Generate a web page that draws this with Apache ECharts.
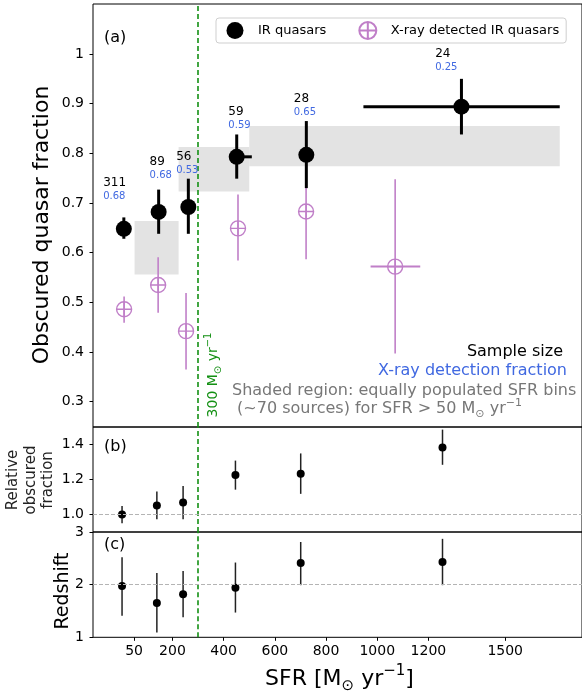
<!DOCTYPE html>
<html><head><meta charset="utf-8">
<script src="https://cdn.jsdelivr.net/npm/echarts@6/dist/echarts.min.js"></script>
<style>html,body{margin:0;padding:0;background:#fff}#c{width:582px;height:695px}</style>
</head><body><div id="c"></div>
<script>
// ---------------- data ----------------
const irSFR    = [10, 146, 262, 451, 723, 1329];
const irSFRLo  = [10, 146, 262, 425, 723, 946];
const irSFRHi  = [10, 146, 262, 510, 723, 1713];
const irFrac   = [0.648, 0.682, 0.692, 0.793, 0.797, 0.894];
const irFracLo = [0.628, 0.638, 0.638, 0.749, 0.730, 0.838];
const irFracHi = [0.671, 0.727, 0.749, 0.838, 0.865, 0.950];

const xrSFR    = [11, 144, 253, 456, 722, 1070];
const xrSFRLo  = [11, 144, 253, 456, 722, 974];
const xrSFRHi  = [11, 144, 253, 456, 722, 1168];
const xrFrac   = [0.486, 0.535, 0.442, 0.649, 0.683, 0.572];
const xrFracLo = [0.459, 0.479, 0.365, 0.584, 0.587, 0.397];
const xrFracHi = [0.512, 0.591, 0.519, 0.717, 0.745, 0.748];

const binSFRLo  = [52, 224, 500];
const binSFRHi  = [224, 500, 1713];
const binFracLo = [0.556, 0.723, 0.774];
const binFracHi = [0.664, 0.813, 0.855];

const sampleSize  = [311, 89, 56, 59, 28, 24];
const xrayDetFrac = [0.68, 0.68, 0.53, 0.59, 0.65, 0.25];
const labelSFR    = [-70.7, 110.7, 214.4, 418.3, 673.8, 1226.4];
const labelFrac   = [0.7397, 0.782, 0.7926, 0.8826, 0.9088, 1.0];

const medSFR     = [3, 139, 241.5, 446, 701, 1255];
const relFrac    = [1.0, 1.051, 1.068, 1.226, 1.233, 1.383];
const relFracLo  = [0.95, 0.973, 0.973, 1.142, 1.118, 1.284];
const relFracHi  = [1.049, 1.132, 1.163, 1.308, 1.349, 1.485];

const redshift   = [1.974, 1.65, 1.82, 1.94, 2.41, 2.43];
const redshiftLo = [1.41, 1.09, 1.38, 1.47, 1.99, 1.99];
const redshiftHi = [2.52, 2.22, 2.26, 2.42, 2.81, 2.87];

const sfrTicks  = [50, 200, 400, 600, 800, 1000, 1200, 1500];
const fracTicks = [0.3, 0.4, 0.5, 0.6, 0.7, 0.8, 0.9, 1.0];
const relTicks  = [1.0, 1.2, 1.4];
const zTicks    = [1, 2, 3];
const sfrCut = 300;
const relRef = 1.0;
const zRef = 2;

// ---------------- styles ----------------
const FF = '"DejaVu Sans", sans-serif';
const purple = '#c07fc8';
const green = '#139013';
const blue = '#4169e1';
const grey = '#777777';

const chart = echarts.init(document.getElementById('c'), null, {renderer: 'canvas'});

function xAxisCfg(gi, show) {
  return {
    type: 'value', gridIndex: gi, min: -110.5, max: 1800,
    axisLine: {show: false, onZero: false}, splitLine: {show: false},
    axisTick: {show: show, customValues: sfrTicks, length: 3.5, lineStyle: {color: '#000', width: 1}},
    axisLabel: {show: show, customValues: sfrTicks, fontSize: 14, color: '#000', margin: 7, fontFamily: FF,
      formatter: v => String(Math.round(v))}
  };
}
function yAxisCfg(gi, min, max, ticks, fmt) {
  return {
    type: 'value', gridIndex: gi, min: min, max: max,
    axisLine: {show: false, onZero: false}, splitLine: {show: false},
    axisTick: {show: true, customValues: ticks, length: 3.5, lineStyle: {color: '#000', width: 1}},
    axisLabel: {show: true, customValues: ticks, fontSize: 14, color: '#000', margin: 9, fontFamily: FF, formatter: fmt}
  };
}

function vErr(color, width) {
  return function (params, api) {
    const x = api.value(0), lo = api.value(1), hi = api.value(2);
    const p1 = api.coord([x, lo]), p2 = api.coord([x, hi]);
    return {type: 'line', shape: {x1: p1[0], y1: p1[1], x2: p2[0], y2: p2[1]},
      style: {stroke: color, lineWidth: width}};
  };
}
function hErr(color, width) {
  return function (params, api) {
    const lo = api.value(0), hi = api.value(1), y = api.value(2);
    if (hi - lo <= 0) return {type: 'group', children: []};
    const p1 = api.coord([lo, y]), p2 = api.coord([hi, y]);
    return {type: 'line', shape: {x1: p1[0], y1: p1[1], x2: p2[0], y2: p2[1]},
      style: {stroke: color, lineWidth: width}};
  };
}

const vLine = {
  silent: true, symbol: 'none', label: {show: false},
  lineStyle: {color: green, type: [5, 3], width: 1.6},
  emphasis: {disabled: true},
  data: [{xAxis: sfrCut}]
};
function hLine(v) {
  return {
    silent: true, symbol: 'none', label: {show: false},
    lineStyle: {color: '#b4b4b4', type: [4, 2], width: 1},
    emphasis: {disabled: true},
    data: [{yAxis: v}]
  };
}

const oplusPath = 'path://M0,-10A10,10 0 1,1 0,10A10,10 0 1,1 0,-10ZM0,-10L0,10M-10,0L10,0';

const series = [
  // shaded bins
  {
    type: 'custom', xAxisIndex: 0, yAxisIndex: 0, z: 1, silent: true,
    data: binSFRLo.map((x, i) => [x, binSFRHi[i], binFracLo[i], binFracHi[i]]),
    renderItem: function (params, api) {
      const p0 = api.coord([api.value(0), api.value(3)]);
      const p1 = api.coord([api.value(1), api.value(2)]);
      return {type: 'rect', shape: {x: p0[0], y: p0[1], width: p1[0] - p0[0], height: p1[1] - p0[1]},
        style: {fill: '#e3e3e3'}};
    },
    markLine: vLine
  },
  // x-ray error bars
  {type: 'custom', xAxisIndex: 0, yAxisIndex: 0, z: 3, silent: true,
    data: xrSFR.map((x, i) => [x, xrFracLo[i], xrFracHi[i]]), renderItem: vErr(purple, 1.6)},
  {type: 'custom', xAxisIndex: 0, yAxisIndex: 0, z: 3, silent: true,
    data: xrSFR.map((x, i) => [xrSFRLo[i], xrSFRHi[i], xrFrac[i]]), renderItem: hErr(purple, 2)},
  {
    name: 'X-ray detected IR quasars', type: 'scatter', xAxisIndex: 0, yAxisIndex: 0, z: 4,
    symbol: oplusPath, symbolSize: 15,
    itemStyle: {color: 'rgba(255,255,255,0)', borderColor: purple, borderWidth: 1.4, opacity: 1},
    data: xrSFR.map((x, i) => [x, xrFrac[i]])
  },
  // IR error bars
  {type: 'custom', xAxisIndex: 0, yAxisIndex: 0, z: 5, silent: true,
    data: irSFR.map((x, i) => [x, irFracLo[i], irFracHi[i]]), renderItem: vErr('#000', 3)},
  {type: 'custom', xAxisIndex: 0, yAxisIndex: 0, z: 5, silent: true,
    data: irSFR.map((x, i) => [irSFRLo[i], irSFRHi[i], irFrac[i]]), renderItem: hErr('#000', 3)},
  {
    name: 'IR quasars', type: 'scatter', xAxisIndex: 0, yAxisIndex: 0, z: 6,
    symbol: 'circle', symbolSize: 16, itemStyle: {color: '#000', opacity: 1},
    data: irSFR.map((x, i) => [x, irFrac[i]])
  },
  // sample size labels
  {
    type: 'custom', xAxisIndex: 0, yAxisIndex: 0, z: 7, silent: true,
    data: labelSFR.map((x, i) => [x, labelFrac[i]]),
    renderItem: function (params, api) {
      const i = params.dataIndex;
      const p = api.coord([api.value(0), api.value(1)]);
      return {type: 'group', children: [
        {type: 'text', x: p[0], y: p[1], style: {text: String(sampleSize[i]), font: '12px ' + FF,
          fill: '#000', align: 'left', verticalAlign: 'middle'}},
        {type: 'text', x: p[0], y: p[1] + 13.4, style: {text: xrayDetFrac[i].toFixed(2), font: '10px ' + FF,
          fill: blue, align: 'left', verticalAlign: 'middle'}}
      ]};
    }
  },
  // panel b
  {type: 'custom', xAxisIndex: 1, yAxisIndex: 1, z: 3, silent: true,
    data: medSFR.map((x, i) => [x, relFracLo[i], relFracHi[i]]), renderItem: vErr('#222', 1.5),
    markLine: vLine},
  {type: 'scatter', xAxisIndex: 1, yAxisIndex: 1, z: 4, symbol: 'circle', symbolSize: 8,
    itemStyle: {color: '#000', opacity: 1}, data: medSFR.map((x, i) => [x, relFrac[i]]),
    markLine: hLine(relRef)},
  // panel c
  {type: 'custom', xAxisIndex: 2, yAxisIndex: 2, z: 3, silent: true,
    data: medSFR.map((x, i) => [x, redshiftLo[i], redshiftHi[i]]), renderItem: vErr('#222', 1.5),
    markLine: vLine},
  {type: 'scatter', xAxisIndex: 2, yAxisIndex: 2, z: 4, symbol: 'circle', symbolSize: 8,
    itemStyle: {color: '#000', opacity: 1}, data: medSFR.map((x, i) => [x, redshift[i]]),
    markLine: hLine(zRef)}
];

function T(x, y, text, font, fill, align, extra) {
  return Object.assign({type: 'text', x: x, y: y, silent: true,
    style: {text: text, font: font, fill: fill, align: align || 'center', verticalAlign: 'middle'}}, extra || {});
}

const option = {
  animation: false,
  backgroundColor: '#fff',
  textStyle: {fontFamily: FF},
  grid: [
    {left: 93, top: 4, width: 492, height: 423, show: true, borderColor: '#000', borderWidth: 1, backgroundColor: 'transparent'},
    {left: 93, top: 427, width: 492, height: 105, show: true, borderColor: '#000', borderWidth: 1, backgroundColor: 'transparent'},
    {left: 93, top: 532, width: 492, height: 105.3, show: true, borderColor: '#000', borderWidth: 1, backgroundColor: 'transparent'}
  ],
  xAxis: [xAxisCfg(0, false), xAxisCfg(1, false), xAxisCfg(2, true)],
  yAxis: [
    yAxisCfg(0, 0.249, 1.1007, fracTicks, v => (Math.abs(v - 1) < 1e-9 ? '1' : v.toFixed(1))),
    yAxisCfg(1, 0.9, 1.5, relTicks, v => v.toFixed(1)),
    yAxisCfg(2, 1, 3, zTicks, v => String(Math.round(v)))
  ],
  legend: {
    left: 216, top: 18, orient: 'horizontal',
    data: ['IR quasars', 'X-ray detected IR quasars'],
    itemWidth: 17, itemHeight: 17, itemGap: 32,
    padding: [3, 7, 3, 10.5],
    borderColor: '#cfcfcf', borderWidth: 1, borderRadius: 3,
    backgroundColor: 'rgba(255,255,255,0.85)',
    formatter: name => '{t|' + name + '}',
    textStyle: {fontSize: 13, color: '#000', fontFamily: FF,
      rich: {t: {fontSize: 13, fontFamily: FF, color: '#000', padding: [0, 0, 0, 9.5]}}},
    selectedMode: false
  },
  graphic: [
    T(104, 38, '(a)', '16px ' + FF, '#000', 'left'),
    T(104, 447, '(b)', '16px ' + FF, '#000', 'left'),
    T(104, 545, '(c)', '16px ' + FF, '#000', 'left'),
    T(563, 352, 'Sample size', '16px ' + FF, '#000', 'right'),
    T(567, 371, 'X-ray detection fraction', '16px ' + FF, blue, 'right'),
    T(232, 391, 'Shaded region: equally populated SFR bins', '16px ' + FF, grey, 'left'),
    {type: 'text', x: 232, y: 409, silent: true, style: {
      text: '{g| (~70 sources) for SFR > 50 M}{s|⊙}{g| yr}{p|−1}',
      align: 'left', verticalAlign: 'middle',
      rich: {
        g: {fontSize: 16, fontFamily: FF, fill: grey, lineHeight: 22},
        s: {fontSize: 11, fontFamily: FF, fill: grey, lineHeight: 13, verticalAlign: 'bottom'},
        p: {fontSize: 11, fontFamily: FF, fill: grey, lineHeight: 14, verticalAlign: 'top'}
      }
    }},
    {type: 'text', x: 213, y: 375, rotation: Math.PI / 2, silent: true, style: {
      text: '{a|300 M}{s|⊙}{a| yr}{p|−1}',
      align: 'center', verticalAlign: 'middle',
      rich: {
        a: {fontSize: 14, fontFamily: FF, fill: green, lineHeight: 20},
        s: {fontSize: 10, fontFamily: FF, fill: green, lineHeight: 12, verticalAlign: 'bottom'},
        p: {fontSize: 10, fontFamily: FF, fill: green, lineHeight: 12, verticalAlign: 'top'}
      }
    }},
    T(42, 225, 'Obscured quasar fraction', '22px ' + FF, '#000', 'center', {rotation: Math.PI / 2}),
    {type: 'text', x: 31, y: 480, rotation: Math.PI / 2, silent: true, style: {
      text: 'Relative\nobscured\nfraction', font: '15px ' + FF, fill: '#222',
      align: 'center', verticalAlign: 'middle', lineHeight: 17.5
    }},
    T(63, 591, 'Redshift', '19px ' + FF, '#000', 'center', {rotation: Math.PI / 2}),
    {type: 'text', x: 339.5, y: 679, silent: true, style: {
      text: '{n|SFR [M}{s|⊙}{n| yr}{p|−1}{n|]}',
      align: 'center', verticalAlign: 'middle',
      rich: {
        n: {fontSize: 22, fontFamily: FF, fill: '#000', lineHeight: 30},
        s: {fontSize: 15, fontFamily: FF, fill: '#000', lineHeight: 19, verticalAlign: 'bottom'},
        p: {fontSize: 15, fontFamily: FF, fill: '#000', lineHeight: 19, verticalAlign: 'top'}
      }
    }}
  ],
  series: series
};
chart.setOption(option);
</script>
</body></html>
